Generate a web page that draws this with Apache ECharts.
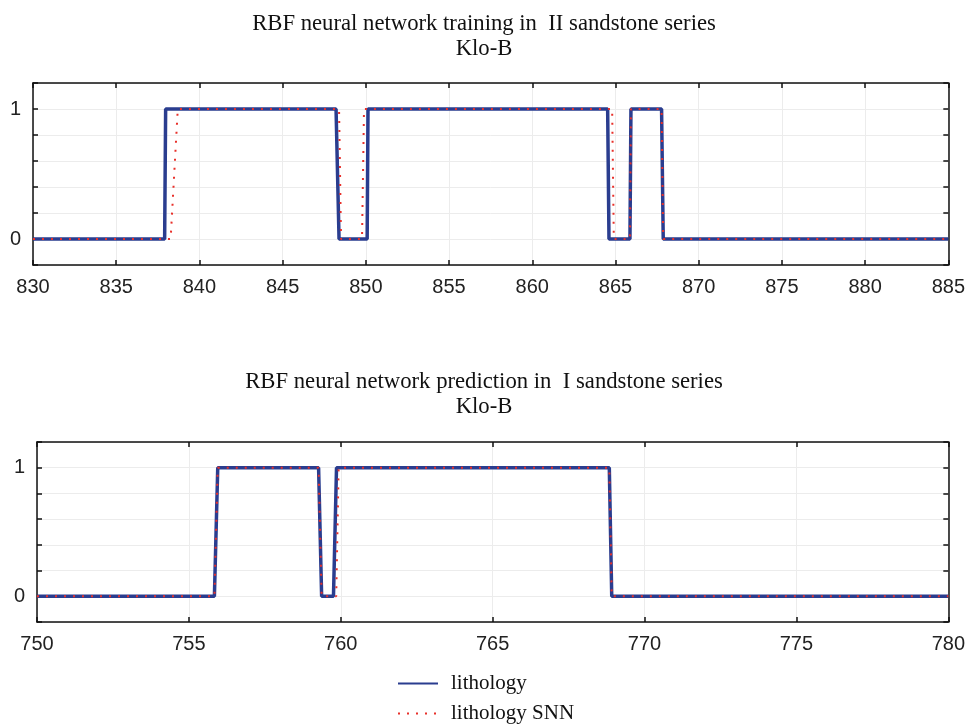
<!DOCTYPE html>
<html>
<head>
<meta charset="utf-8">
<script src="https://cdn.jsdelivr.net/npm/echarts@6/dist/echarts.min.js"></script>
<style>
  html, body { margin: 0; padding: 0; background: #ffffff; }
  #main { width: 968px; height: 727px; }
</style>
</head>
<body>
<div id="main"></div>
<script>
// training section, II sandstone series (depth in m, lithology 0/1)
let trainDepth = [830, 837.91, 837.97, 848.21, 848.39, 850.08, 850.13, 864.53, 864.61, 865.87, 865.93, 867.77, 867.87, 885];
let trainLith  = [0, 0, 1, 1, 0, 0, 1, 1, 0, 0, 1, 1, 0, 0];
let trainSnnDepth = [830, 838.27, 838.7, 848.39, 848.51, 849.77, 849.89, 864.8, 864.9, 865.87, 865.93, 867.77, 867.87, 885];
let trainSnn      = [0, 0, 1, 1, 0, 0, 1, 1, 0, 0, 1, 1, 0, 0];

// prediction section, I sandstone series
let predDepth = [750, 755.84, 755.95, 759.27, 759.37, 759.76, 759.86, 768.84, 768.92, 780];
let predLith  = [0, 0, 1, 1, 0, 0, 1, 1, 0, 0];
let predSnnDepth = [750, 755.84, 755.95, 759.27, 759.37, 759.85, 759.93, 768.84, 768.92, 780];
let predSnn      = [0, 0, 1, 1, 0, 0, 1, 1, 0, 0];

let yTickLabels = ['0', '1'];

function zip(xs, ys) {
    return xs.map(function (x, i) { return [x, ys[i]]; });
}

let blue = '#2a3d8f';
let red = '#e8302a';
let axisFont = { fontFamily: 'Liberation Sans', fontSize: 20, color: '#222222' };

function xAxes(grid, min, max) {
    return [
        {
            type: 'value', gridIndex: grid, min: min, max: max, interval: 5,
            axisLine: { show: true, onZero: false, lineStyle: { color: '#111', width: 1.5 } },
            axisTick: { show: true, inside: true, length: 5, lineStyle: { color: '#111', width: 1.5 } },
            axisLabel: Object.assign({ margin: 12 }, axisFont),
            splitLine: { show: true, lineStyle: { color: '#ececec', width: 1 } }
        },
        {
            type: 'value', gridIndex: grid, min: min, max: max, interval: 5, position: 'top',
            axisLine: { show: true, onZero: false, lineStyle: { color: '#111', width: 1.5 } },
            axisTick: { show: true, inside: true, length: 5, lineStyle: { color: '#111', width: 1.5 } },
            axisLabel: { show: false },
            splitLine: { show: false }
        }
    ];
}

function yAxes(grid) {
    return [
        {
            type: 'value', gridIndex: grid, min: -0.2, max: 1.2, interval: 0.2,
            axisLine: { show: true, onZero: false, lineStyle: { color: '#111', width: 1.5 } },
            axisTick: { show: true, inside: true, length: 5, lineStyle: { color: '#111', width: 1.5 } },
            axisLabel: Object.assign({
                margin: 12,
                formatter: function (v) {
                    let r = Math.round(v * 10) / 10;
                    return r === 0 ? yTickLabels[0] : (r === 1 ? yTickLabels[1] : '');
                }
            }, axisFont),
            splitLine: { show: true, lineStyle: { color: '#ececec', width: 1 } }
        },
        {
            type: 'value', gridIndex: grid, min: -0.2, max: 1.2, interval: 0.2, position: 'right',
            axisLine: { show: true, onZero: false, lineStyle: { color: '#111', width: 1.5 } },
            axisTick: { show: true, inside: true, length: 5, lineStyle: { color: '#111', width: 1.5 } },
            axisLabel: { show: false },
            splitLine: { show: false }
        }
    ];
}

let titleStyle = { fontFamily: 'Liberation Serif', fontSize: 22.7, fontWeight: 'normal', color: '#111', lineHeight: 25 };

let myChart = echarts.init(document.getElementById('main'));
let option = {
    backgroundColor: '#ffffff',
    animation: false,
    title: [
        {
            text: 'RBF neural network training in  II sandstone series\nKlo-B',
            left: 'center', top: 7, textStyle: titleStyle
        },
        {
            text: 'RBF neural network prediction in  I sandstone series\nKlo-B',
            left: 'center', top: 365, textStyle: titleStyle
        }
    ],
    legend: {
        orient: 'vertical',
        left: 397,
        top: 673,
        height: 60,
        padding: 0,
        itemWidth: 40,
        itemHeight: 14,
        itemGap: 9,
        itemStyle: { opacity: 0 },
        textStyle: { fontFamily: 'Liberation Serif', fontSize: 21, color: '#111', padding: [0, 0, 0, 8] },
        data: ['lithology', 'lithology SNN']
    },
    grid: [
        { left: 33, right: 17, top: 83, height: 182 },
        { left: 37, right: 17, top: 442, height: 180 }
    ],
    xAxis: xAxes(0, 830, 885).concat(xAxes(1, 750, 780)),
    yAxis: yAxes(0).concat(yAxes(1)),
    series: [
        {
            name: 'lithology', type: 'line', xAxisIndex: 0, yAxisIndex: 0,
            symbol: 'none', color: blue,
            lineStyle: { color: blue, width: 3.5 },
            data: zip(trainDepth, trainLith)
        },
        {
            name: 'lithology SNN', type: 'line', xAxisIndex: 0, yAxisIndex: 0,
            symbol: 'none', color: red,
            lineStyle: { color: red, width: 2, type: [2, 7] },
            data: zip(trainSnnDepth, trainSnn)
        },
        {
            name: 'lithology', type: 'line', xAxisIndex: 2, yAxisIndex: 2,
            symbol: 'none', color: blue,
            lineStyle: { color: blue, width: 3.5 },
            data: zip(predDepth, predLith)
        },
        {
            name: 'lithology SNN', type: 'line', xAxisIndex: 2, yAxisIndex: 2,
            symbol: 'none', color: red,
            lineStyle: { color: red, width: 2, type: [2, 7] },
            data: zip(predSnnDepth, predSnn)
        }
    ]
};
myChart.setOption(option);
</script>
</body>
</html>
